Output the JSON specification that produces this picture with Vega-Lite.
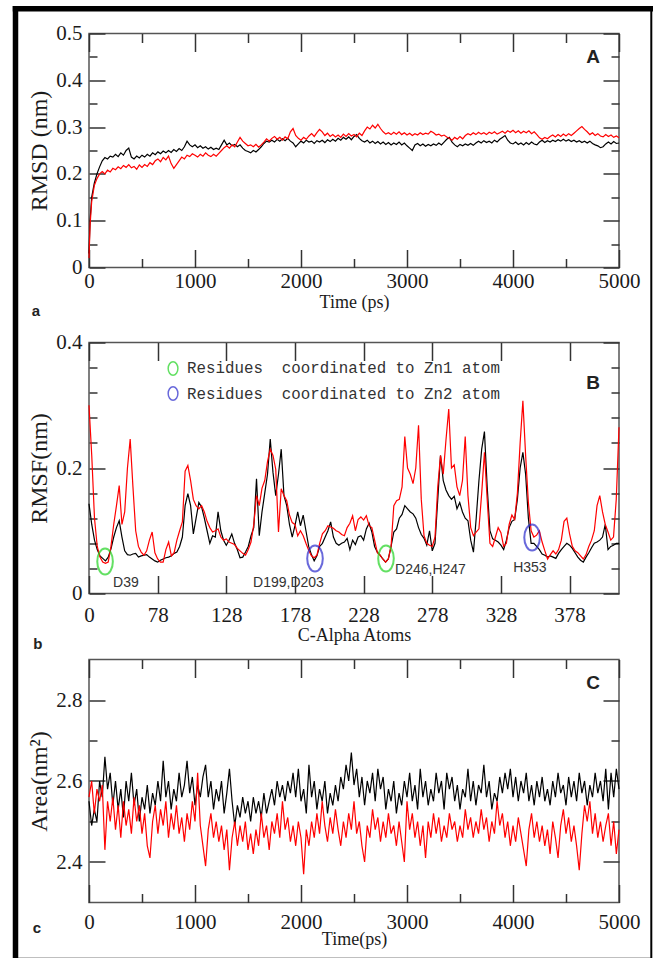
{
"$schema":"https://vega.github.io/schema/vega-lite/v6.json",
"padding":{"left":10,"top":3.5,"right":0,"bottom":0},
"spacing":0,
"bounds":"flush",
"config":{
"view":{"stroke":"#555","strokeWidth":1.5},
"axis":{"grid":false,"domain":false,"labelFont":"Liberation Serif","labelFontSize":21,"labelColor":"#1b1b1b","titleFont":"Liberation Serif","titleFontWeight":"normal","titleColor":"#1b1b1b","tickColor":"#333","tickWidth":1.5,"labelFlush":false,"labelOverlap":false}
},
"datasets":{
"rmsd":[{"t":0,"k":0.03,"r":0.02},{"t":10,"k":0.1,"r":0.09},{"t":25,"k":0.15,"r":0.14},{"t":50,"k":0.18,"r":0.175},{"t":75,"k":0.2,"r":0.19},{"t":100,"k":0.215,"r":0.2},{"t":125,"k":0.228,"r":0.205},{"t":150,"k":0.235,"r":0.2},{"t":175,"k":0.232,"r":0.208},{"t":200,"k":0.238,"r":0.204},{"t":225,"k":0.236,"r":0.212},{"t":250,"k":0.242,"r":0.209},{"t":275,"k":0.237,"r":0.215},{"t":300,"k":0.245,"r":0.211},{"t":325,"k":0.24,"r":0.218},{"t":350,"k":0.25,"r":0.214},{"t":375,"k":0.255,"r":0.22},{"t":400,"k":0.236,"r":0.213},{"t":425,"k":0.232,"r":0.216},{"t":450,"k":0.238,"r":0.21},{"t":475,"k":0.234,"r":0.219},{"t":500,"k":0.24,"r":0.214},{"t":525,"k":0.236,"r":0.22},{"t":550,"k":0.242,"r":0.216},{"t":575,"k":0.238,"r":0.224},{"t":600,"k":0.245,"r":0.22},{"t":625,"k":0.241,"r":0.228},{"t":650,"k":0.247,"r":0.232},{"t":675,"k":0.243,"r":0.226},{"t":700,"k":0.249,"r":0.235},{"t":725,"k":0.245,"r":0.23},{"t":750,"k":0.25,"r":0.238},{"t":775,"k":0.246,"r":0.222},{"t":800,"k":0.252,"r":0.212},{"t":825,"k":0.248,"r":0.22},{"t":850,"k":0.254,"r":0.228},{"t":875,"k":0.25,"r":0.236},{"t":900,"k":0.258,"r":0.232},{"t":925,"k":0.27,"r":0.24},{"t":950,"k":0.262,"r":0.237},{"t":975,"k":0.258,"r":0.243},{"t":1000,"k":0.262,"r":0.24},{"t":1025,"k":0.256,"r":0.236},{"t":1050,"k":0.26,"r":0.242},{"t":1075,"k":0.255,"r":0.238},{"t":1100,"k":0.258,"r":0.245},{"t":1125,"k":0.253,"r":0.24},{"t":1150,"k":0.257,"r":0.237},{"t":1175,"k":0.252,"r":0.242},{"t":1200,"k":0.255,"r":0.238},{"t":1225,"k":0.252,"r":0.244},{"t":1250,"k":0.262,"r":0.25},{"t":1275,"k":0.272,"r":0.256},{"t":1300,"k":0.262,"r":0.26},{"t":1325,"k":0.266,"r":0.255},{"t":1350,"k":0.26,"r":0.262},{"t":1375,"k":0.263,"r":0.258},{"t":1400,"k":0.258,"r":0.268},{"t":1425,"k":0.262,"r":0.278},{"t":1450,"k":0.255,"r":0.27},{"t":1475,"k":0.25,"r":0.265},{"t":1500,"k":0.248,"r":0.26},{"t":1525,"k":0.245,"r":0.262},{"t":1550,"k":0.25,"r":0.258},{"t":1575,"k":0.247,"r":0.263},{"t":1600,"k":0.252,"r":0.257},{"t":1625,"k":0.258,"r":0.262},{"t":1650,"k":0.265,"r":0.268},{"t":1675,"k":0.27,"r":0.275},{"t":1700,"k":0.268,"r":0.27},{"t":1725,"k":0.272,"r":0.276},{"t":1750,"k":0.268,"r":0.28},{"t":1775,"k":0.274,"r":0.274},{"t":1800,"k":0.27,"r":0.278},{"t":1825,"k":0.275,"r":0.272},{"t":1850,"k":0.271,"r":0.279},{"t":1875,"k":0.276,"r":0.275},{"t":1900,"k":0.27,"r":0.29},{"t":1925,"k":0.266,"r":0.297},{"t":1950,"k":0.258,"r":0.282},{"t":1975,"k":0.264,"r":0.276},{"t":2000,"k":0.27,"r":0.272},{"t":2025,"k":0.266,"r":0.278},{"t":2050,"k":0.272,"r":0.274},{"t":2075,"k":0.268,"r":0.281},{"t":2100,"k":0.27,"r":0.286},{"t":2125,"k":0.265,"r":0.28},{"t":2150,"k":0.271,"r":0.288},{"t":2175,"k":0.268,"r":0.295},{"t":2200,"k":0.272,"r":0.29},{"t":2225,"k":0.267,"r":0.282},{"t":2250,"k":0.273,"r":0.287},{"t":2275,"k":0.269,"r":0.28},{"t":2300,"k":0.274,"r":0.284},{"t":2325,"k":0.27,"r":0.279},{"t":2350,"k":0.276,"r":0.283},{"t":2375,"k":0.272,"r":0.278},{"t":2400,"k":0.278,"r":0.285},{"t":2425,"k":0.274,"r":0.28},{"t":2450,"k":0.279,"r":0.286},{"t":2475,"k":0.273,"r":0.281},{"t":2500,"k":0.28,"r":0.284},{"t":2525,"k":0.284,"r":0.279},{"t":2550,"k":0.276,"r":0.287},{"t":2575,"k":0.271,"r":0.282},{"t":2600,"k":0.268,"r":0.292},{"t":2625,"k":0.272,"r":0.3},{"t":2650,"k":0.266,"r":0.296},{"t":2675,"k":0.27,"r":0.304},{"t":2700,"k":0.265,"r":0.298},{"t":2725,"k":0.269,"r":0.306},{"t":2750,"k":0.264,"r":0.297},{"t":2775,"k":0.268,"r":0.29},{"t":2800,"k":0.263,"r":0.285},{"t":2825,"k":0.267,"r":0.288},{"t":2850,"k":0.262,"r":0.284},{"t":2875,"k":0.266,"r":0.289},{"t":2900,"k":0.263,"r":0.285},{"t":2925,"k":0.268,"r":0.29},{"t":2950,"k":0.262,"r":0.284},{"t":2975,"k":0.266,"r":0.288},{"t":3000,"k":0.26,"r":0.283},{"t":3025,"k":0.255,"r":0.287},{"t":3050,"k":0.25,"r":0.282},{"t":3075,"k":0.262,"r":0.286},{"t":3100,"k":0.265,"r":0.283},{"t":3125,"k":0.26,"r":0.288},{"t":3150,"k":0.264,"r":0.284},{"t":3175,"k":0.259,"r":0.287},{"t":3200,"k":0.263,"r":0.285},{"t":3225,"k":0.26,"r":0.291},{"t":3250,"k":0.264,"r":0.288},{"t":3275,"k":0.261,"r":0.283},{"t":3300,"k":0.266,"r":0.285},{"t":3325,"k":0.262,"r":0.281},{"t":3350,"k":0.268,"r":0.283},{"t":3375,"k":0.274,"r":0.279},{"t":3400,"k":0.278,"r":0.276},{"t":3425,"k":0.268,"r":0.272},{"t":3450,"k":0.262,"r":0.278},{"t":3475,"k":0.258,"r":0.274},{"t":3500,"k":0.263,"r":0.28},{"t":3525,"k":0.26,"r":0.275},{"t":3550,"k":0.264,"r":0.282},{"t":3575,"k":0.261,"r":0.286},{"t":3600,"k":0.265,"r":0.283},{"t":3625,"k":0.261,"r":0.288},{"t":3650,"k":0.266,"r":0.284},{"t":3675,"k":0.27,"r":0.289},{"t":3700,"k":0.266,"r":0.285},{"t":3725,"k":0.271,"r":0.288},{"t":3750,"k":0.267,"r":0.284},{"t":3775,"k":0.27,"r":0.289},{"t":3800,"k":0.266,"r":0.286},{"t":3825,"k":0.272,"r":0.29},{"t":3850,"k":0.268,"r":0.285},{"t":3875,"k":0.274,"r":0.288},{"t":3900,"k":0.278,"r":0.291},{"t":3925,"k":0.282,"r":0.287},{"t":3950,"k":0.272,"r":0.292},{"t":3975,"k":0.266,"r":0.289},{"t":4000,"k":0.264,"r":0.293},{"t":4025,"k":0.268,"r":0.288},{"t":4050,"k":0.263,"r":0.292},{"t":4075,"k":0.266,"r":0.287},{"t":4100,"k":0.262,"r":0.291},{"t":4125,"k":0.267,"r":0.288},{"t":4150,"k":0.263,"r":0.292},{"t":4175,"k":0.268,"r":0.286},{"t":4200,"k":0.264,"r":0.29},{"t":4225,"k":0.262,"r":0.284},{"t":4250,"k":0.268,"r":0.277},{"t":4275,"k":0.272,"r":0.274},{"t":4300,"k":0.267,"r":0.278},{"t":4325,"k":0.271,"r":0.275},{"t":4350,"k":0.268,"r":0.28},{"t":4375,"k":0.272,"r":0.283},{"t":4400,"k":0.269,"r":0.279},{"t":4425,"k":0.273,"r":0.284},{"t":4450,"k":0.27,"r":0.28},{"t":4475,"k":0.274,"r":0.285},{"t":4500,"k":0.27,"r":0.281},{"t":4525,"k":0.273,"r":0.286},{"t":4550,"k":0.269,"r":0.282},{"t":4575,"k":0.272,"r":0.287},{"t":4600,"k":0.268,"r":0.292},{"t":4625,"k":0.271,"r":0.297},{"t":4650,"k":0.267,"r":0.301},{"t":4675,"k":0.27,"r":0.295},{"t":4700,"k":0.266,"r":0.29},{"t":4725,"k":0.27,"r":0.284},{"t":4750,"k":0.265,"r":0.288},{"t":4775,"k":0.262,"r":0.282},{"t":4800,"k":0.26,"r":0.286},{"t":4825,"k":0.256,"r":0.281},{"t":4850,"k":0.258,"r":0.279},{"t":4875,"k":0.264,"r":0.284},{"t":4900,"k":0.268,"r":0.28},{"t":4925,"k":0.264,"r":0.283},{"t":4950,"k":0.269,"r":0.278},{"t":4975,"k":0.265,"r":0.281},{"t":5000,"k":0.266,"r":0.277}],
"rmsf":[{"a":28,"k":0.143,"r":0.3},{"a":30,"k":0.11,"r":0.22},{"a":32,"k":0.085,"r":0.12},{"a":34,"k":0.07,"r":0.075},{"a":36,"k":0.06,"r":0.058},{"a":38,"k":0.056,"r":0.05},{"a":40,"k":0.052,"r":0.048},{"a":42,"k":0.058,"r":0.05},{"a":44,"k":0.071,"r":0.075},{"a":46,"k":0.09,"r":0.11},{"a":48,"k":0.105,"r":0.14},{"a":50,"k":0.116,"r":0.172},{"a":52,"k":0.09,"r":0.11},{"a":54,"k":0.068,"r":0.13},{"a":56,"k":0.062,"r":0.2},{"a":58,"k":0.061,"r":0.246},{"a":60,"k":0.063,"r":0.17},{"a":62,"k":0.064,"r":0.1},{"a":64,"k":0.058,"r":0.075},{"a":66,"k":0.06,"r":0.066},{"a":68,"k":0.061,"r":0.061},{"a":70,"k":0.062,"r":0.068},{"a":72,"k":0.058,"r":0.085},{"a":74,"k":0.055,"r":0.098},{"a":76,"k":0.052,"r":0.065},{"a":78,"k":0.05,"r":0.055},{"a":80,"k":0.053,"r":0.05},{"a":82,"k":0.055,"r":0.05},{"a":84,"k":0.057,"r":0.07},{"a":86,"k":0.058,"r":0.082},{"a":88,"k":0.06,"r":0.06},{"a":90,"k":0.064,"r":0.065},{"a":92,"k":0.066,"r":0.085},{"a":94,"k":0.075,"r":0.1},{"a":96,"k":0.09,"r":0.114},{"a":98,"k":0.14,"r":0.195},{"a":100,"k":0.159,"r":0.204},{"a":102,"k":0.14,"r":0.18},{"a":104,"k":0.095,"r":0.15},{"a":106,"k":0.12,"r":0.14},{"a":108,"k":0.145,"r":0.135},{"a":110,"k":0.138,"r":0.14},{"a":112,"k":0.12,"r":0.13},{"a":114,"k":0.1,"r":0.115},{"a":116,"k":0.08,"r":0.105},{"a":118,"k":0.092,"r":0.098},{"a":120,"k":0.09,"r":0.1},{"a":122,"k":0.13,"r":0.103},{"a":124,"k":0.1,"r":0.09},{"a":126,"k":0.085,"r":0.085},{"a":128,"k":0.077,"r":0.087},{"a":130,"k":0.085,"r":0.082},{"a":132,"k":0.095,"r":0.08},{"a":134,"k":0.08,"r":0.078},{"a":136,"k":0.07,"r":0.072},{"a":138,"k":0.057,"r":0.068},{"a":140,"k":0.058,"r":0.064},{"a":142,"k":0.066,"r":0.061},{"a":144,"k":0.075,"r":0.07},{"a":146,"k":0.092,"r":0.082},{"a":148,"k":0.105,"r":0.11},{"a":150,"k":0.183,"r":0.156},{"a":152,"k":0.092,"r":0.14},{"a":154,"k":0.13,"r":0.168},{"a":156,"k":0.16,"r":0.18},{"a":158,"k":0.19,"r":0.21},{"a":160,"k":0.246,"r":0.23},{"a":162,"k":0.193,"r":0.22},{"a":164,"k":0.156,"r":0.198},{"a":166,"k":0.19,"r":0.098},{"a":168,"k":0.23,"r":0.167},{"a":170,"k":0.156,"r":0.156},{"a":172,"k":0.14,"r":0.148},{"a":174,"k":0.11,"r":0.125},{"a":176,"k":0.09,"r":0.113},{"a":178,"k":0.108,"r":0.11},{"a":180,"k":0.13,"r":0.092},{"a":182,"k":0.108,"r":0.1},{"a":184,"k":0.125,"r":0.092},{"a":186,"k":0.1,"r":0.08},{"a":188,"k":0.075,"r":0.069},{"a":190,"k":0.062,"r":0.06},{"a":192,"k":0.052,"r":0.057},{"a":194,"k":0.06,"r":0.061},{"a":196,"k":0.075,"r":0.08},{"a":198,"k":0.08,"r":0.095},{"a":200,"k":0.09,"r":0.1},{"a":202,"k":0.1,"r":0.108},{"a":204,"k":0.114,"r":0.106},{"a":206,"k":0.09,"r":0.104},{"a":208,"k":0.08,"r":0.1},{"a":210,"k":0.077,"r":0.098},{"a":212,"k":0.08,"r":0.094},{"a":214,"k":0.082,"r":0.092},{"a":216,"k":0.088,"r":0.105},{"a":218,"k":0.07,"r":0.112},{"a":220,"k":0.085,"r":0.124},{"a":222,"k":0.078,"r":0.1},{"a":224,"k":0.09,"r":0.118},{"a":226,"k":0.092,"r":0.122},{"a":228,"k":0.085,"r":0.117},{"a":230,"k":0.103,"r":0.124},{"a":232,"k":0.112,"r":0.108},{"a":234,"k":0.098,"r":0.105},{"a":236,"k":0.075,"r":0.085},{"a":238,"k":0.066,"r":0.065},{"a":240,"k":0.061,"r":0.061},{"a":242,"k":0.055,"r":0.055},{"a":244,"k":0.05,"r":0.05},{"a":246,"k":0.055,"r":0.055},{"a":248,"k":0.075,"r":0.075},{"a":250,"k":0.098,"r":0.14},{"a":252,"k":0.103,"r":0.148},{"a":254,"k":0.12,"r":0.15},{"a":256,"k":0.126,"r":0.17},{"a":258,"k":0.14,"r":0.25},{"a":260,"k":0.135,"r":0.2},{"a":262,"k":0.13,"r":0.19},{"a":264,"k":0.127,"r":0.175},{"a":266,"k":0.12,"r":0.2},{"a":268,"k":0.105,"r":0.268},{"a":270,"k":0.094,"r":0.15},{"a":272,"k":0.088,"r":0.092},{"a":274,"k":0.077,"r":0.08},{"a":276,"k":0.1,"r":0.077},{"a":278,"k":0.068,"r":0.075},{"a":280,"k":0.08,"r":0.09},{"a":282,"k":0.15,"r":0.17},{"a":284,"k":0.22,"r":0.22},{"a":286,"k":0.18,"r":0.19},{"a":288,"k":0.165,"r":0.245},{"a":290,"k":0.156,"r":0.294},{"a":292,"k":0.15,"r":0.2},{"a":294,"k":0.155,"r":0.205},{"a":296,"k":0.135,"r":0.17},{"a":298,"k":0.145,"r":0.156},{"a":300,"k":0.13,"r":0.18},{"a":302,"k":0.12,"r":0.25},{"a":304,"k":0.116,"r":0.156},{"a":306,"k":0.085,"r":0.105},{"a":308,"k":0.066,"r":0.092},{"a":310,"k":0.12,"r":0.098},{"a":312,"k":0.18,"r":0.103},{"a":314,"k":0.23,"r":0.16},{"a":316,"k":0.258,"r":0.225},{"a":318,"k":0.17,"r":0.15},{"a":320,"k":0.1,"r":0.08},{"a":322,"k":0.087,"r":0.075},{"a":324,"k":0.085,"r":0.09},{"a":326,"k":0.082,"r":0.105},{"a":328,"k":0.077,"r":0.097},{"a":330,"k":0.07,"r":0.075},{"a":332,"k":0.085,"r":0.08},{"a":334,"k":0.105,"r":0.11},{"a":336,"k":0.115,"r":0.125},{"a":338,"k":0.118,"r":0.118},{"a":340,"k":0.15,"r":0.16},{"a":342,"k":0.2,"r":0.24},{"a":344,"k":0.225,"r":0.307},{"a":346,"k":0.19,"r":0.22},{"a":348,"k":0.12,"r":0.145},{"a":350,"k":0.08,"r":0.1},{"a":352,"k":0.08,"r":0.09},{"a":354,"k":0.075,"r":0.093},{"a":356,"k":0.07,"r":0.1},{"a":358,"k":0.063,"r":0.082},{"a":360,"k":0.061,"r":0.068},{"a":362,"k":0.058,"r":0.055},{"a":364,"k":0.06,"r":0.062},{"a":366,"k":0.058,"r":0.068},{"a":368,"k":0.056,"r":0.063},{"a":370,"k":0.064,"r":0.07},{"a":372,"k":0.07,"r":0.085},{"a":374,"k":0.075,"r":0.115},{"a":376,"k":0.08,"r":0.12},{"a":378,"k":0.077,"r":0.095},{"a":380,"k":0.072,"r":0.075},{"a":382,"k":0.065,"r":0.068},{"a":384,"k":0.058,"r":0.065},{"a":386,"k":0.053,"r":0.06},{"a":388,"k":0.05,"r":0.055},{"a":390,"k":0.058,"r":0.062},{"a":392,"k":0.065,"r":0.075},{"a":394,"k":0.073,"r":0.085},{"a":396,"k":0.08,"r":0.1},{"a":398,"k":0.082,"r":0.14},{"a":400,"k":0.085,"r":0.156},{"a":402,"k":0.09,"r":0.13},{"a":404,"k":0.11,"r":0.11},{"a":406,"k":0.07,"r":0.098},{"a":408,"k":0.075,"r":0.085},{"a":410,"k":0.077,"r":0.09},{"a":412,"k":0.08,"r":0.15},{"a":414,"k":0.08,"r":0.265}],
"area":[{"t":0,"k":2.55,"r":2.56},{"t":25,"k":2.49,"r":2.6},{"t":50,"k":2.53,"r":2.52},{"t":75,"k":2.5,"r":2.58},{"t":100,"k":2.6,"r":2.55},{"t":125,"k":2.56,"r":2.59},{"t":150,"k":2.66,"r":2.43},{"t":175,"k":2.58,"r":2.55},{"t":200,"k":2.62,"r":2.5},{"t":225,"k":2.54,"r":2.56},{"t":250,"k":2.6,"r":2.48},{"t":275,"k":2.53,"r":2.54},{"t":300,"k":2.58,"r":2.46},{"t":325,"k":2.51,"r":2.55},{"t":350,"k":2.6,"r":2.49},{"t":375,"k":2.55,"r":2.53},{"t":400,"k":2.62,"r":2.47},{"t":425,"k":2.54,"r":2.56},{"t":450,"k":2.58,"r":2.5},{"t":475,"k":2.5,"r":2.54},{"t":500,"k":2.56,"r":2.47},{"t":525,"k":2.53,"r":2.52},{"t":550,"k":2.59,"r":2.44},{"t":575,"k":2.52,"r":2.41},{"t":600,"k":2.57,"r":2.5},{"t":625,"k":2.54,"r":2.54},{"t":650,"k":2.6,"r":2.47},{"t":675,"k":2.55,"r":2.53},{"t":700,"k":2.65,"r":2.49},{"t":725,"k":2.56,"r":2.55},{"t":750,"k":2.6,"r":2.46},{"t":775,"k":2.53,"r":2.52},{"t":800,"k":2.58,"r":2.48},{"t":825,"k":2.55,"r":2.54},{"t":850,"k":2.62,"r":2.47},{"t":875,"k":2.56,"r":2.51},{"t":900,"k":2.59,"r":2.45},{"t":925,"k":2.65,"r":2.52},{"t":950,"k":2.57,"r":2.48},{"t":975,"k":2.61,"r":2.55},{"t":1000,"k":2.54,"r":2.5},{"t":1025,"k":2.59,"r":2.62},{"t":1050,"k":2.56,"r":2.49},{"t":1075,"k":2.61,"r":2.44},{"t":1100,"k":2.64,"r":2.39},{"t":1125,"k":2.56,"r":2.48},{"t":1150,"k":2.6,"r":2.52},{"t":1175,"k":2.53,"r":2.46},{"t":1200,"k":2.58,"r":2.5},{"t":1225,"k":2.55,"r":2.45},{"t":1250,"k":2.6,"r":2.49},{"t":1275,"k":2.52,"r":2.43},{"t":1300,"k":2.57,"r":2.48},{"t":1325,"k":2.63,"r":2.38},{"t":1350,"k":2.55,"r":2.46},{"t":1375,"k":2.49,"r":2.5},{"t":1400,"k":2.54,"r":2.44},{"t":1425,"k":2.51,"r":2.49},{"t":1450,"k":2.56,"r":2.45},{"t":1475,"k":2.52,"r":2.5},{"t":1500,"k":2.55,"r":2.43},{"t":1525,"k":2.5,"r":2.47},{"t":1550,"k":2.56,"r":2.42},{"t":1575,"k":2.52,"r":2.48},{"t":1600,"k":2.55,"r":2.44},{"t":1625,"k":2.51,"r":2.52},{"t":1650,"k":2.57,"r":2.46},{"t":1675,"k":2.52,"r":2.49},{"t":1700,"k":2.55,"r":2.43},{"t":1725,"k":2.58,"r":2.5},{"t":1750,"k":2.54,"r":2.47},{"t":1775,"k":2.6,"r":2.52},{"t":1800,"k":2.56,"r":2.46},{"t":1825,"k":2.59,"r":2.55},{"t":1850,"k":2.55,"r":2.48},{"t":1875,"k":2.6,"r":2.51},{"t":1900,"k":2.57,"r":2.45},{"t":1925,"k":2.62,"r":2.49},{"t":1950,"k":2.56,"r":2.44},{"t":1975,"k":2.63,"r":2.5},{"t":2000,"k":2.55,"r":2.46},{"t":2025,"k":2.58,"r":2.37},{"t":2050,"k":2.52,"r":2.48},{"t":2075,"k":2.64,"r":2.44},{"t":2100,"k":2.56,"r":2.5},{"t":2125,"k":2.6,"r":2.46},{"t":2150,"k":2.53,"r":2.52},{"t":2175,"k":2.58,"r":2.47},{"t":2200,"k":2.55,"r":2.55},{"t":2225,"k":2.6,"r":2.49},{"t":2250,"k":2.52,"r":2.45},{"t":2275,"k":2.57,"r":2.51},{"t":2300,"k":2.54,"r":2.47},{"t":2325,"k":2.59,"r":2.53},{"t":2350,"k":2.55,"r":2.48},{"t":2375,"k":2.61,"r":2.44},{"t":2400,"k":2.58,"r":2.5},{"t":2425,"k":2.64,"r":2.46},{"t":2450,"k":2.6,"r":2.52},{"t":2475,"k":2.67,"r":2.48},{"t":2500,"k":2.59,"r":2.55},{"t":2525,"k":2.63,"r":2.47},{"t":2550,"k":2.56,"r":2.5},{"t":2575,"k":2.61,"r":2.44},{"t":2600,"k":2.54,"r":2.4},{"t":2625,"k":2.6,"r":2.49},{"t":2650,"k":2.57,"r":2.46},{"t":2675,"k":2.62,"r":2.53},{"t":2700,"k":2.55,"r":2.48},{"t":2725,"k":2.63,"r":2.51},{"t":2750,"k":2.58,"r":2.45},{"t":2775,"k":2.61,"r":2.5},{"t":2800,"k":2.53,"r":2.46},{"t":2825,"k":2.58,"r":2.52},{"t":2850,"k":2.55,"r":2.47},{"t":2875,"k":2.6,"r":2.49},{"t":2900,"k":2.52,"r":2.44},{"t":2925,"k":2.57,"r":2.5},{"t":2950,"k":2.54,"r":2.45},{"t":2975,"k":2.6,"r":2.4},{"t":3000,"k":2.56,"r":2.55},{"t":3025,"k":2.62,"r":2.48},{"t":3050,"k":2.55,"r":2.52},{"t":3075,"k":2.59,"r":2.46},{"t":3100,"k":2.53,"r":2.5},{"t":3125,"k":2.63,"r":2.44},{"t":3150,"k":2.56,"r":2.49},{"t":3175,"k":2.6,"r":2.41},{"t":3200,"k":2.54,"r":2.5},{"t":3225,"k":2.58,"r":2.46},{"t":3250,"k":2.55,"r":2.52},{"t":3275,"k":2.62,"r":2.47},{"t":3300,"k":2.57,"r":2.51},{"t":3325,"k":2.6,"r":2.45},{"t":3350,"k":2.53,"r":2.49},{"t":3375,"k":2.62,"r":2.46},{"t":3400,"k":2.58,"r":2.52},{"t":3425,"k":2.61,"r":2.48},{"t":3450,"k":2.55,"r":2.5},{"t":3475,"k":2.59,"r":2.45},{"t":3500,"k":2.53,"r":2.49},{"t":3525,"k":2.58,"r":2.46},{"t":3550,"k":2.56,"r":2.53},{"t":3575,"k":2.63,"r":2.48},{"t":3600,"k":2.55,"r":2.51},{"t":3625,"k":2.6,"r":2.46},{"t":3650,"k":2.54,"r":2.5},{"t":3675,"k":2.59,"r":2.47},{"t":3700,"k":2.57,"r":2.53},{"t":3725,"k":2.64,"r":2.48},{"t":3750,"k":2.56,"r":2.51},{"t":3775,"k":2.6,"r":2.45},{"t":3800,"k":2.53,"r":2.5},{"t":3825,"k":2.57,"r":2.47},{"t":3850,"k":2.55,"r":2.55},{"t":3875,"k":2.61,"r":2.49},{"t":3900,"k":2.57,"r":2.52},{"t":3925,"k":2.62,"r":2.46},{"t":3950,"k":2.58,"r":2.5},{"t":3975,"k":2.63,"r":2.44},{"t":4000,"k":2.56,"r":2.49},{"t":4025,"k":2.61,"r":2.45},{"t":4050,"k":2.55,"r":2.51},{"t":4075,"k":2.6,"r":2.47},{"t":4100,"k":2.57,"r":2.43},{"t":4125,"k":2.62,"r":2.39},{"t":4150,"k":2.55,"r":2.48},{"t":4175,"k":2.59,"r":2.52},{"t":4200,"k":2.54,"r":2.46},{"t":4225,"k":2.6,"r":2.5},{"t":4250,"k":2.56,"r":2.45},{"t":4275,"k":2.61,"r":2.49},{"t":4300,"k":2.55,"r":2.44},{"t":4325,"k":2.58,"r":2.48},{"t":4350,"k":2.54,"r":2.42},{"t":4375,"k":2.6,"r":2.5},{"t":4400,"k":2.56,"r":2.46},{"t":4425,"k":2.62,"r":2.41},{"t":4450,"k":2.57,"r":2.49},{"t":4475,"k":2.59,"r":2.53},{"t":4500,"k":2.54,"r":2.47},{"t":4525,"k":2.61,"r":2.51},{"t":4550,"k":2.56,"r":2.45},{"t":4575,"k":2.6,"r":2.49},{"t":4600,"k":2.55,"r":2.44},{"t":4625,"k":2.62,"r":2.38},{"t":4650,"k":2.57,"r":2.47},{"t":4675,"k":2.6,"r":2.54},{"t":4700,"k":2.54,"r":2.5},{"t":4725,"k":2.59,"r":2.55},{"t":4750,"k":2.56,"r":2.47},{"t":4775,"k":2.62,"r":2.52},{"t":4800,"k":2.57,"r":2.46},{"t":4825,"k":2.6,"r":2.5},{"t":4850,"k":2.55,"r":2.45},{"t":4875,"k":2.63,"r":2.49},{"t":4900,"k":2.53,"r":2.52},{"t":4925,"k":2.62,"r":2.44},{"t":4950,"k":2.56,"r":2.5},{"t":4975,"k":2.63,"r":2.42},{"t":5000,"k":2.58,"r":2.48}]
},
"vconcat":[
{
"width":530,"height":234,
"data":{"name":"rmsd"},
"layer":[
{"mark":{"type":"line","color":"#000000","strokeWidth":1.2},
"encoding":{
"x":{"field":"t","type":"quantitative","scale":{"domain":[0,5000],"nice":false},"axis":{"orient":"bottom","values":[0,1000,2000,3000,4000,5000],"tickSize":-18,"labelPadding":21,"format":"d","title":"Time (ps)","titleFontSize":18,"titlePadding":2}},
"y":{"field":"k","type":"quantitative","scale":{"domain":[0,0.5],"nice":false,"zero":false},"axis":{"orient":"left","values":[0,0.1,0.2,0.3,0.4,0.5],"tickSize":-16,"labelPadding":23,"format":"~g","title":"RMSD (nm)","titleFontSize":24,"titlePadding":4}}}},
{"mark":{"type":"line","color":"#ff0000","strokeWidth":1.2},
"encoding":{
"x":{"field":"t","type":"quantitative","scale":{"domain":[0,5000],"nice":false},"axis":{"orient":"top","values":[0,1000,2000,3000,4000,5000],"tickSize":-18,"labels":false,"title":null}},
"y":{"field":"r","type":"quantitative","scale":{"domain":[0,0.5],"nice":false,"zero":false},"axis":{"orient":"right","values":[0,0.1,0.2,0.3,0.4,0.5],"tickSize":-16,"labels":false,"title":null}}}},
{"data":{"values":[{"t":4755,"v":0.45,"s":"A"}]},
"mark":{"type":"text","font":"Liberation Sans","fontWeight":"bold","fontSize":19,"fill":"#222"},
"encoding":{
"x":{"field":"t","type":"quantitative","scale":{"domain":[0,5000],"nice":false},"axis":{"orient":"bottom","values":[500,1500,2500,3500,4500],"tickSize":-9,"labels":false,"title":null}},
"y":{"field":"v","type":"quantitative","scale":{"domain":[0,0.5],"nice":false,"zero":false},"axis":{"orient":"left","values":[0.05,0.15,0.25,0.35,0.45],"tickSize":-8,"labels":false,"title":null}},
"text":{"field":"s"}}},
{"data":{"values":[{"t":-500,"v":-0.092,"s":"a"}]},
"mark":{"type":"text","font":"Liberation Sans","fontWeight":"bold","fontSize":15,"fill":"#222"},
"encoding":{
"x":{"field":"t","type":"quantitative","scale":{"domain":[0,5000],"nice":false},"axis":{"orient":"top","values":[500,1500,2500,3500,4500],"tickSize":-9,"labels":false,"title":null}},
"y":{"field":"v","type":"quantitative","scale":{"domain":[0,0.5],"nice":false,"zero":false},"axis":{"orient":"right","values":[0.05,0.15,0.25,0.35,0.45],"tickSize":-8,"labels":false,"title":null}},
"text":{"field":"s"}}},
{"data":{"values":[{"x1":-693.4,"x2":5304.7,"y1":0.5528,"y2":-1.477}]},
"mark":{"type":"rect","filled":false,"stroke":"#000","strokeWidth":2},
"encoding":{
"x":{"field":"x1","type":"quantitative","scale":{"domain":[0,5000],"nice":false},"axis":null},
"x2":{"field":"x2"},
"y":{"field":"y1","type":"quantitative","scale":{"domain":[0,0.5],"nice":false,"zero":false},"axis":null},
"y2":{"field":"y2"}}},
{"data":{"values":[{"x1":-693.4,"x2":-693.4,"y1":0.5528,"y2":-1.4806},{"x1":-693.4,"x2":5320.8,"y1":0.5528,"y2":0.5528}]},
"mark":{"type":"rule","stroke":"#000","strokeWidth":5.5,"strokeCap":"square"},
"encoding":{
"x":{"field":"x1","type":"quantitative","scale":{"domain":[0,5000],"nice":false},"axis":null},
"x2":{"field":"x2"},
"y":{"field":"y1","type":"quantitative","scale":{"domain":[0,0.5],"nice":false,"zero":false},"axis":null},
"y2":{"field":"y2"}}}
],
"resolve":{"axis":{"x":"independent","y":"independent"}}
},
{"width":530,"height":75,"data":{"values":[]},"mark":"point","view":{"stroke":null}},
{
"width":530,"height":251,
"data":{"name":"rmsf"},
"layer":[
{"mark":{"type":"line","color":"#000000","strokeWidth":1.2},
"encoding":{
"x":{"field":"a","type":"quantitative","scale":{"domain":[28,414],"nice":false,"zero":false},"axis":{"orient":"bottom","values":[28,78,128,178,228,278,328,378],"tickSize":-18,"labelPadding":29,"labelExpr":"datum.value == 28 ? '0' : datum.label","title":"C-Alpha Atoms","titleFontSize":18,"titlePadding":1}},
"y":{"field":"k","type":"quantitative","scale":{"domain":[0,0.4],"nice":false,"zero":false},"axis":{"orient":"left","values":[0,0.2,0.4],"tickSize":-16,"labelPadding":23,"format":"~g","title":"RMSF(nm)","titleFontSize":24,"titlePadding":4}}}},
{"mark":{"type":"line","color":"#ff0000","strokeWidth":1.2},
"encoding":{
"x":{"field":"a","type":"quantitative","scale":{"domain":[28,414],"nice":false,"zero":false},"axis":{"orient":"top","values":[28,78,128,178,228,278,328,378],"tickSize":-18,"labels":false,"title":null}},
"y":{"field":"r","type":"quantitative","scale":{"domain":[0,0.4],"nice":false,"zero":false},"axis":{"orient":"right","values":[0,0.2,0.4],"tickSize":-16,"labels":false,"title":null}}}},
{"data":{"values":[{"a":99.4,"v":0.3586,"s":"Residues\u00a0\u00a0coordinated to Zn1 atom"},{"a":99.4,"v":0.3187,"s":"Residues\u00a0\u00a0coordinated to Zn2 atom"}]},
"mark":{"type":"text","font":"Liberation Mono","fontSize":15.8,"align":"left","baseline":"middle","fill":"#333"},
"encoding":{
"x":{"field":"a","type":"quantitative","scale":{"domain":[28,414],"nice":false,"zero":false},"axis":null},
"y":{"field":"v","type":"quantitative","scale":{"domain":[0,0.4],"nice":false,"zero":false},"axis":{"orient":"left","values":[0.04,0.08,0.12,0.16,0.24,0.28,0.32,0.36],"tickSize":-8,"labels":false,"title":null}},
"text":{"field":"s"}}},
{"data":{"values":[{"a":89.2,"v":0.3586,"zn":"Zn1"},{"a":89.2,"v":0.3187,"zn":"Zn2"}]},
"mark":{"type":"point","filled":false,"strokeWidth":1.5,"size":182,"shape":"M -0.72 0 C -0.72 -0.552 -0.398 -1 0 -1 C 0.398 -1 0.72 -0.552 0.72 0 C 0.72 0.552 0.398 1 0 1 C -0.398 1 -0.72 0.552 -0.72 0 Z"},
"encoding":{
"x":{"field":"a","type":"quantitative","scale":{"domain":[28,414],"nice":false,"zero":false},"axis":null},
"y":{"field":"v","type":"quantitative","scale":{"domain":[0,0.4],"nice":false,"zero":false},"axis":{"orient":"right","values":[0.04,0.08,0.12,0.16,0.24,0.28,0.32,0.36],"tickSize":-8,"labels":false,"title":null}},
"color":{"field":"zn","type":"nominal","scale":{"domain":["Zn1","Zn2"],"range":["#22d422","#2a2acc"]},"legend":null}}},
{"data":{"values":[{"a":39.7,"v":0.051,"zn":"Zn1"},{"a":192.6,"v":0.0558,"zn":"Zn2"},{"a":244.3,"v":0.0558,"zn":"Zn1"},{"a":350.7,"v":0.0892,"zn":"Zn2"}]},
"mark":{"type":"point","filled":false,"strokeWidth":2,"size":676,"shape":"M -0.6 0 C -0.6 -0.552 -0.331 -1 0 -1 C 0.331 -1 0.6 -0.552 0.6 0 C 0.6 0.552 0.331 1 0 1 C -0.331 1 -0.6 0.552 -0.6 0 Z"},
"encoding":{
"x":{"field":"a","type":"quantitative","scale":{"domain":[28,414],"nice":false,"zero":false},"axis":null},
"y":{"field":"v","type":"quantitative","scale":{"domain":[0,0.4],"nice":false,"zero":false},"axis":null},
"color":{"field":"zn","type":"nominal","scale":{"domain":["Zn1","Zn2"],"range":["#22d422","#2a2acc"]},"legend":null}}},
{"data":{"values":[{"a":45.5,"v":0.0175,"s":"D39"},{"a":147.5,"v":0.0175,"s":"D199,D203"},{"a":250.9,"v":0.0367,"s":"D246,H247"},{"a":336.9,"v":0.0414,"s":"H353"}]},
"mark":{"type":"text","font":"Liberation Sans","fontSize":14,"align":"left","baseline":"middle","fill":"#333"},
"encoding":{
"x":{"field":"a","type":"quantitative","scale":{"domain":[28,414],"nice":false,"zero":false},"axis":null},
"y":{"field":"v","type":"quantitative","scale":{"domain":[0,0.4],"nice":false,"zero":false},"axis":null},
"text":{"field":"s"}}},
{"data":{"values":[{"a":395.1,"v":0.3347,"s":"B","f":19},{"a":-9.2,"v":-0.0797,"s":"b","f":15}]},
"mark":{"type":"text","font":"Liberation Sans","fontWeight":"bold","fill":"#222"},
"encoding":{
"x":{"field":"a","type":"quantitative","scale":{"domain":[28,414],"nice":false,"zero":false},"axis":null},
"y":{"field":"v","type":"quantitative","scale":{"domain":[0,0.4],"nice":false,"zero":false},"axis":null},
"text":{"field":"s"},
"size":{"field":"f","type":"quantitative","scale":null}}}
],
"resolve":{"axis":{"x":"independent","y":"independent"}}
},
{"width":530,"height":66,"data":{"values":[]},"mark":"point","view":{"stroke":null}},
{
"width":530,"height":243,
"data":{"name":"area"},
"layer":[
{"mark":{"type":"line","color":"#000000","strokeWidth":1.2},
"encoding":{
"x":{"field":"t","type":"quantitative","scale":{"domain":[0,5000],"nice":false},"axis":{"orient":"bottom","values":[0,1000,2000,3000,4000,5000],"tickSize":-18,"labelPadding":27,"format":"d","title":"Time(ps)","titleFontSize":18,"titlePadding":-2}},
"y":{"field":"k","type":"quantitative","scale":{"domain":[2.3,2.9],"nice":false,"zero":false},"axis":{"orient":"left","values":[2.4,2.6,2.8],"tickSize":-16,"labelPadding":23,"format":"~g","title":"Area(nm²)","titleFontSize":24,"titlePadding":4}}}},
{"mark":{"type":"line","color":"#ff0000","strokeWidth":1.2},
"encoding":{
"x":{"field":"t","type":"quantitative","scale":{"domain":[0,5000],"nice":false},"axis":{"orient":"top","values":[0,1000,2000,3000,4000,5000],"tickSize":-18,"labels":false,"title":null}},
"y":{"field":"r","type":"quantitative","scale":{"domain":[2.3,2.9],"nice":false,"zero":false},"axis":{"orient":"right","values":[2.4,2.6,2.8],"tickSize":-16,"labels":false,"title":null}}}},
{"data":{"values":[{"t":4755,"v":2.843,"s":"C"}]},
"mark":{"type":"text","font":"Liberation Sans","fontWeight":"bold","fontSize":19,"fill":"#222"},
"encoding":{
"x":{"field":"t","type":"quantitative","scale":{"domain":[0,5000],"nice":false},"axis":{"orient":"bottom","values":[500,1500,2500,3500,4500],"tickSize":-9,"labels":false,"title":null}},
"y":{"field":"v","type":"quantitative","scale":{"domain":[2.3,2.9],"nice":false,"zero":false},"axis":{"orient":"left","values":[2.5,2.7],"tickSize":-8,"labels":false,"title":null}},
"text":{"field":"s"}}},
{"data":{"values":[{"t":-491,"v":2.236,"s":"c"}]},
"mark":{"type":"text","font":"Liberation Sans","fontWeight":"bold","fontSize":15,"fill":"#222"},
"encoding":{
"x":{"field":"t","type":"quantitative","scale":{"domain":[0,5000],"nice":false},"axis":{"orient":"top","values":[500,1500,2500,3500,4500],"tickSize":-9,"labels":false,"title":null}},
"y":{"field":"v","type":"quantitative","scale":{"domain":[2.3,2.9],"nice":false,"zero":false},"axis":{"orient":"right","values":[2.5,2.7],"tickSize":-8,"labels":false,"title":null}},
"text":{"field":"s"}}}
],
"resolve":{"axis":{"x":"independent","y":"independent"}}
}
]
}
